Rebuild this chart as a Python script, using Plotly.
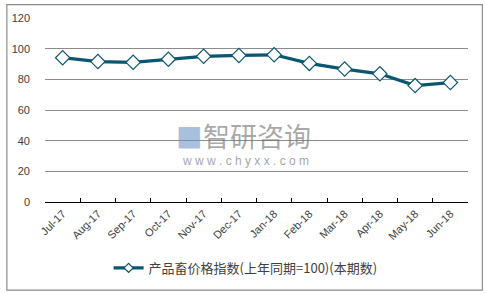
import plotly.graph_objects as go

months = ["Jul-17", "Aug-17", "Sep-17", "Oct-17", "Nov-17", "Dec-17",
          "Jan-18", "Feb-18", "Mar-18", "Apr-18", "May-18", "Jun-18"]
values = [94.1, 91.6, 91.1, 93.1, 95.0, 95.6, 96.0, 90.4, 86.7, 83.6, 75.9, 77.9]
series_name = "产品畜价格指数(上年同期=100)(本期数)"
y_ticks = [0, 20, 40, 60, 80, 100, 120]

line_color = "#0b5670"
text_color = "#404040"
font_family = "Liberation Sans, Arial, Noto Sans CJK SC, sans-serif"

fig = go.Figure()
fig.add_trace(go.Scatter(
    x=months, y=values, mode="lines+markers", name=series_name,
    line=dict(color=line_color, width=3.2),
    marker=dict(symbol="diamond", size=11, color="white",
                line=dict(color=line_color, width=1.2)),
    showlegend=False,
))
# legend entry with a smaller marker
fig.add_trace(go.Scatter(
    x=[None], y=[None], mode="lines+markers", name=series_name,
    line=dict(color=line_color, width=3.2),
    marker=dict(symbol="diamond", size=7, color="white",
                line=dict(color=line_color, width=1.2)),
    showlegend=True,
))

# border around whole chart (paper coords computed from margins)
L, R, T, B = 41, 18, 16, 92
W, H = 486, 295
pw, ph = W - L - R, H - T - B
def px_x(x):
    return (x - L) / pw
def px_y(y):
    return (H - B - y) / ph

fig.add_shape(type="rect", xref="paper", yref="paper",
              x0=px_x(2.5), x1=px_x(482.5), y0=px_y(292.5), y1=px_y(2.5),
              line=dict(color="#8c8c8c", width=1.2), fillcolor="rgba(0,0,0,0)",
              layer="below")

# watermark
fig.add_annotation(xref="paper", yref="paper", x=px_x(255), y=px_y(135),
                   text="智研咨询", showarrow=False,
                   font=dict(family="Noto Sans CJK SC", size=27, color="rgba(110,110,110,0.6)"),
                   xanchor="center", yanchor="middle")
fig.add_annotation(xref="paper", yref="paper", x=px_x(186), y=px_y(135),
                   text="■", showarrow=False,
                   font=dict(family="DejaVu Sans", size=28, color="rgba(110,150,200,0.6)"),
                   xanchor="center", yanchor="middle")
fig.add_annotation(xref="paper", yref="paper", x=px_x(243), y=px_y(161),
                   text="w w w . c h y x x . c o m", showarrow=False,
                   font=dict(family="Liberation Sans, Arial", size=12, color="rgba(110,110,110,0.65)"),
                   xanchor="center", yanchor="middle")

fig.update_layout(
    width=W, height=H,
    margin=dict(l=L, r=R, t=T, b=B),
    paper_bgcolor="white", plot_bgcolor="white",
    font=dict(family=font_family, size=11, color=text_color),
    showlegend=True,
    legend=dict(orientation="h", x=0.5 - 11 / pw, xanchor="center", y=px_y(270), yanchor="middle",
                font=dict(family="Noto Sans CJK SC, Liberation Sans", size=13, color=text_color),
                itemwidth=30, bgcolor="rgba(0,0,0,0)"),
    xaxis=dict(type="category", showgrid=False, showline=True, linecolor="#000000",
               linewidth=1.2, ticks="inside", tickson="boundaries", ticklen=4,
               tickcolor="#000000", tickangle=-45, range=[-0.5, 11.5],
               tickfont=dict(size=11, color=text_color)),
    yaxis=dict(range=[0, 120], tickvals=y_ticks, showgrid=True, gridcolor="#8c8c8c",
               gridwidth=1, zeroline=False, showline=False, ticks="",
               ticklabelstandoff=14, tickfont=dict(size=11, color=text_color)),
)

fig.write_html("out.html")
